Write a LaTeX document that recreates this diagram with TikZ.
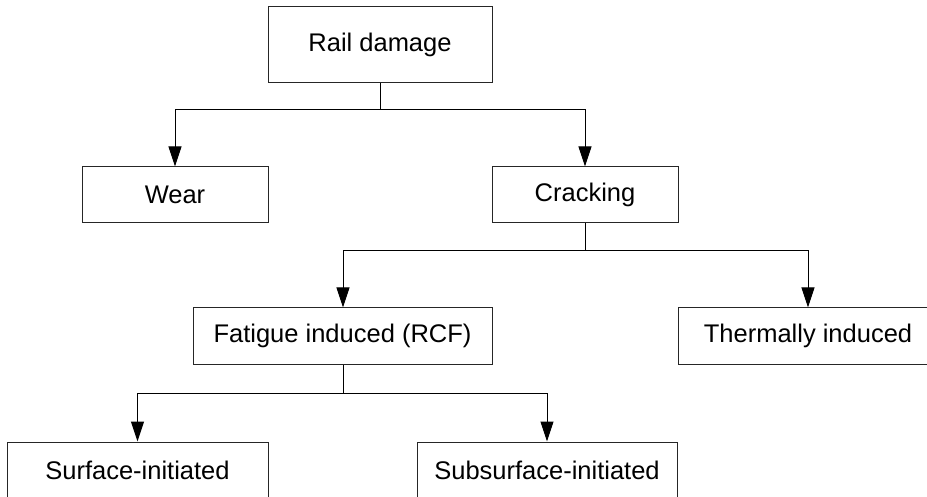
\documentclass[tikz,border=0pt]{standalone}
\usepackage{fontspec}
\setmainfont{Liberation Sans}
\usetikzlibrary{arrows.meta}
\begin{document}
\begin{tikzpicture}[x=1pt,y=-1pt,
  box/.style={draw=black!85,line width=1pt,inner sep=0pt,minimum height=56pt,
    font=\fontsize{25.5}{30}\selectfont},
  link/.style={draw=black,line width=1pt},
  arr/.style={link,-{Triangle[length=20pt,width=13pt]}}]
\useasboundingbox (0,0) rectangle (927,497);
\node[box,minimum width=224pt,minimum height=76pt] (rail) at (380,45) {Rail damage};
\node[box,minimum width=186pt] (wear) at (175,195) {Wear};
\node[box,minimum width=186pt] (crack) at (585,195) {Cracking};
\node[box,minimum width=299pt] (fat) at (342.5,336) {Fatigue induced (RCF)};
\node[box,minimum width=260pt] (therm) at (808,336) {Thermally induced};
\node[box,minimum width=261pt] (surf) at (137.5,470) {Surface-initiated};
\node[box,minimum width=260pt] (sub) at (547,470) {Subsurface-initiated};
\coordinate (j1) at (380,110);
\coordinate (j2) at (585,251);
\coordinate (j3) at (343,393);
\draw[link] (rail.south) -- (j1);
\draw[arr] (j1) -| (wear.north);
\draw[arr] (j1) -| (crack.north);
\draw[link] (crack.south) -- (j2);
\draw[arr] (j2) -| (fat.north -| j3);
\draw[arr] (j2) -| (therm.north);
\draw[link] (fat.south -| j3) -- (j3);
\draw[arr] (j3) -| (surf.north);
\draw[arr] (j3) -| (sub.north);
\end{tikzpicture}
\end{document}
